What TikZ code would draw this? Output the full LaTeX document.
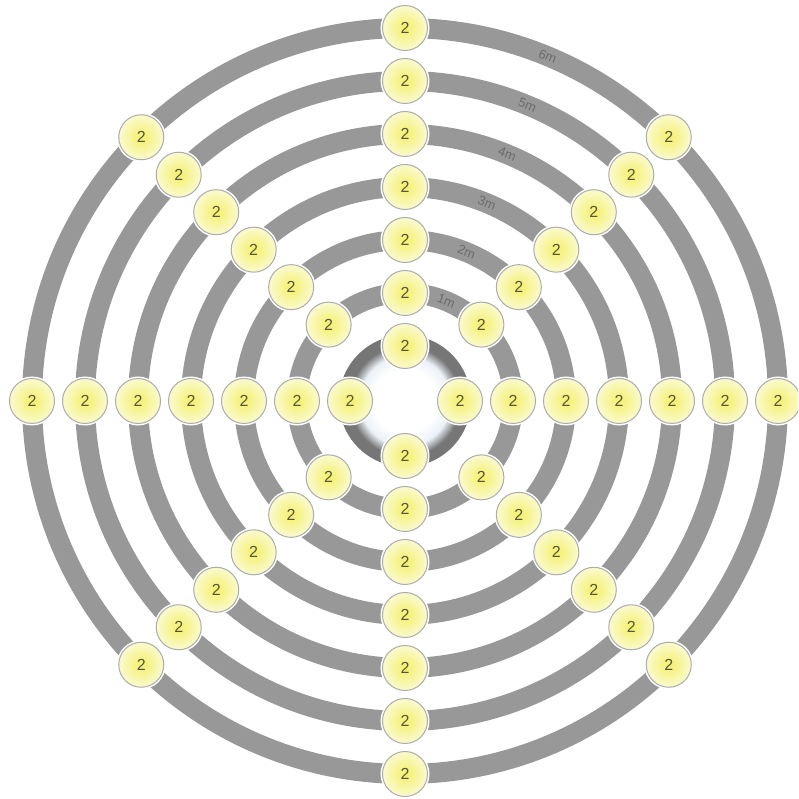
\documentclass[tikz,border=0pt]{standalone}
\usepackage{fontspec}
\setsansfont{Liberation Sans}
\usetikzlibrary{calc}
\definecolor{ringgray}{RGB}{152,152,152}
\definecolor{hubgray}{RGB}{118,118,118}
\definecolor{hubpale}{RGB}{236,242,248}
\definecolor{bulbyellow}{RGB}{245,240,105}
\definecolor{bulbedge}{RGB}{250,250,208}
\definecolor{digitgray}{RGB}{85,85,65}
\pgfdeclareradialshading{hubshade}{\pgfpoint{0bp}{0bp}}{color(0bp)=(white); color(12bp)=(white); color(17bp)=(hubpale); color(21bp)=(hubgray); color(25bp)=(hubgray); color(50bp)=(hubgray)}

\begin{document}
\begin{tikzpicture}[x=1pt, y=1pt,
    ring/.style={draw=ringgray, line width=20pt},
    bulb/.style={circle, minimum size=45pt, inner sep=0pt,
      draw=gray!65, line width=1pt,
      inner color=bulbyellow, outer color=bulbedge,
      preaction={draw=white, line width=4pt},
      font=\sffamily\fontsize{16}{16}\selectfont, text=digitgray},
    metre/.style={font=\sffamily\fontsize{13}{13}\selectfont,
      text=black!58, rotate=-22.5, inner sep=0pt}]
  \useasboundingbox (0,0) rectangle (798,799);
  \clip (0,0) rectangle (798,799);
  \coordinate (hub) at (405,398);
  % rings, 1 m apart
  \foreach \k in {2,...,7}
    \draw[ring] (hub) circle ({55+53*(\k-1)});
  \shade[shading=hubshade] (hub) circle (66);
  % distance marks
  \foreach \k in {2,...,7}{
    \pgfmathtruncatemacro\m{\k-1}
    \node[metre] (mark\m) at ($(hub)+(67.5:{55+53*(\k-1)})$) {\m m};
  }
  % lamps on the axes
  \foreach \k in {1,...,7}{
    \pgfmathsetmacro\r{55+53*(\k-1)}
    \node[bulb] (north\k) at ($(hub)+(90:\r)$) {2};
    \node[bulb] (south\k) at ($(hub)+(270:\r)$) {2};
    \node[bulb] (west\k) at ($(hub)+(180:\r)$) {2};
    \node[bulb] (east\k) at ($(hub)+(0:\r)$) {2};
  }
  % lamps on the diagonals
  \foreach \k in {2,...,7}{
    \pgfmathsetmacro\r{55+53*(\k-1)}
    \node[bulb] (ne\k) at ($(hub)+(45:\r)$) {2};
    \node[bulb] (nw\k) at ($(hub)+(135:\r)$) {2};
    \node[bulb] (sw\k) at ($(hub)+(225:\r)$) {2};
    \node[bulb] (se\k) at ($(hub)+(315:\r)$) {2};
  }
\end{tikzpicture}
\end{document}
